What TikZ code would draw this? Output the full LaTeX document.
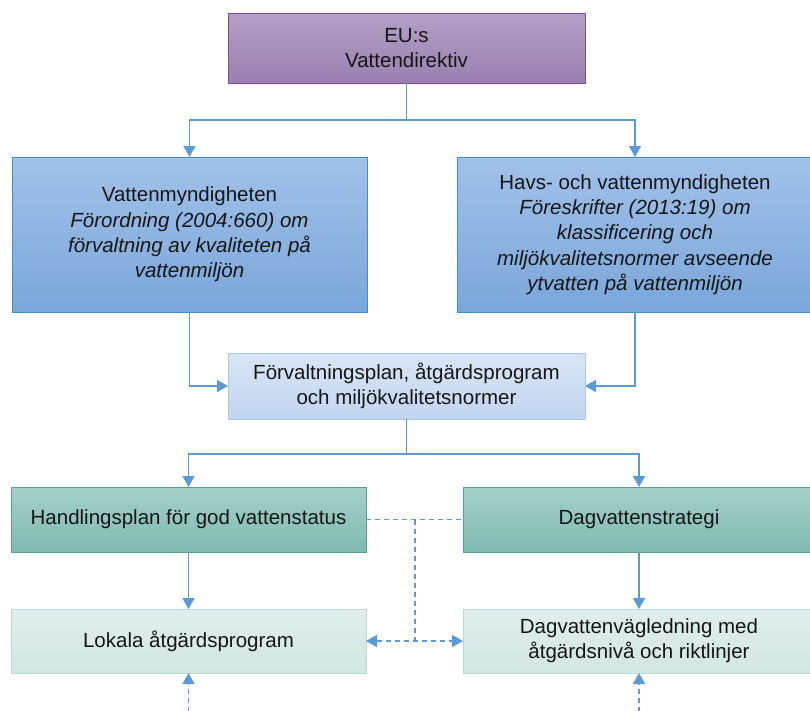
\documentclass[tikz,border=0pt]{standalone}
\usepackage{fontspec}
\setmainfont{Liberation Sans}
\usetikzlibrary{arrows.meta}
\definecolor{linec}{HTML}{5B9BD5}
\definecolor{txt}{HTML}{161616}
\definecolor{euT}{HTML}{B3A0C6}
\definecolor{euB}{HTML}{9A7FB0}
\definecolor{euD}{HTML}{7D4A93}
\definecolor{blT}{HTML}{A2C1E9}
\definecolor{blB}{HTML}{7AA6DA}
\definecolor{blD}{HTML}{3A8FD0}
\definecolor{miT}{HTML}{D8E5F6}
\definecolor{miB}{HTML}{C2D5EF}
\definecolor{miD}{HTML}{A9C7EA}
\definecolor{grT}{HTML}{A4D1C9}
\definecolor{grB}{HTML}{7FB9B0}
\definecolor{grD}{HTML}{4FA592}
\definecolor{ltT}{HTML}{E0EEEB}
\definecolor{ltB}{HTML}{D2E6E2}
\definecolor{ltD}{HTML}{B9DAD2}
\tikzset{
  box/.style={rectangle, inner sep=0pt, outer sep=0pt, align=center, text=txt,
    font=\fontsize{20.5}{25.3}\selectfont, line width=1pt},
  eubox/.style={box, top color=euT, bottom color=euB, draw=euD},
  bluebox/.style={box, top color=blT, bottom color=blB, draw=blD},
  midbox/.style={box, top color=miT, bottom color=miB, draw=miD},
  greenbox/.style={box, top color=grT, bottom color=grB, draw=grD},
  lightbox/.style={box, top color=ltT, bottom color=ltB, draw=ltD},
  conn/.style={draw=linec, line width=1.6pt},
  tip/.style={-{Triangle[width=12pt,length=11pt]}},
  arr/.style={conn, tip},
  dconn/.style={conn, dash pattern=on 5pt off 4pt},
  darr/.style={dconn, tip},
  ddarr/.style={dconn, {Triangle[width=12pt,length=11pt]}-{Triangle[width=12pt,length=11pt]}},
}
\begin{document}
\begin{tikzpicture}[x=1pt,y=-1pt]
\useasboundingbox[fill=white] (0,0) rectangle (810,710);

\node[eubox, minimum width=357pt, minimum height=70pt] (eu) at (406.5,48) {EU:s\\Vattendirektiv};

\node[bluebox, minimum width=355pt, minimum height=155pt] (lb) at (189.5,234.5)
  {Vattenmyndigheten\\\textit{Förordning (2004:660) om}\\\textit{förvaltning av kvaliteten på}\\\textit{vattenmiljön}};
\node[bluebox, minimum width=356pt, minimum height=155pt] (rb) at (635,234.5)
  {Havs- och vattenmyndigheten\\\textit{Föreskrifter (2013:19) om}\\\textit{klassificering och}\\\textit{miljökvalitetsnormer avseende}\\\textit{ytvatten på vattenmiljön}};

\node[midbox, minimum width=357pt, minimum height=66pt] (mid) at (406.5,386)
  {Förvaltningsplan, åtgärdsprogram\\och miljökvalitetsnormer};

\node[greenbox, minimum width=355pt, minimum height=65pt] (gl) at (188.5,519.5)
  {Handlingsplan för god vattenstatus};
\node[greenbox, minimum width=352pt, minimum height=65pt] (gr) at (639,519.5)
  {Dagvattenstrategi};

\node[lightbox, minimum width=355pt, minimum height=64pt] (bl) at (188.5,641)
  {Lokala åtgärdsprogram};
\node[lightbox, minimum width=352pt, minimum height=64pt] (br) at (639,641)
  {Dagvattenvägledning med\\åtgärdsnivå och riktlinjer};

% top tree
\coordinate (j1) at (406.5,120);
\draw[conn] (eu.south) -- (j1);
\draw[arr] (j1) -| (lb.north);
\draw[arr] (j1) -| (rb.north);

% into middle
\draw[arr] (lb.south) |- (mid.west);
\draw[arr] (rb.south) |- (mid.east);

% middle to green
\coordinate (j2) at (406.5,454);
\draw[conn] (mid.south) -- (j2);
\draw[arr] (j2) -| (gl.north);
\draw[arr] (j2) -| (gr.north);

% green to bottom
\draw[arr] (gl.south) -- (bl.north);
\draw[arr] (gr.south) -- (br.north);

% dashed links
\coordinate (d1) at (415,519.5);
\coordinate (d2) at (415,641);
\draw[dconn] (gl.east) -- (gr.west);
\draw[dconn] (d1) -- (d2);
\draw[ddarr] (bl.east) -- (br.west);

% incoming from below
\coordinate (u1) at (188.5,712);
\coordinate (u2) at (639,712);
\draw[darr] (u1) -- (bl.south);
\draw[darr] (u2) -- (br.south);
\end{tikzpicture}
\end{document}
